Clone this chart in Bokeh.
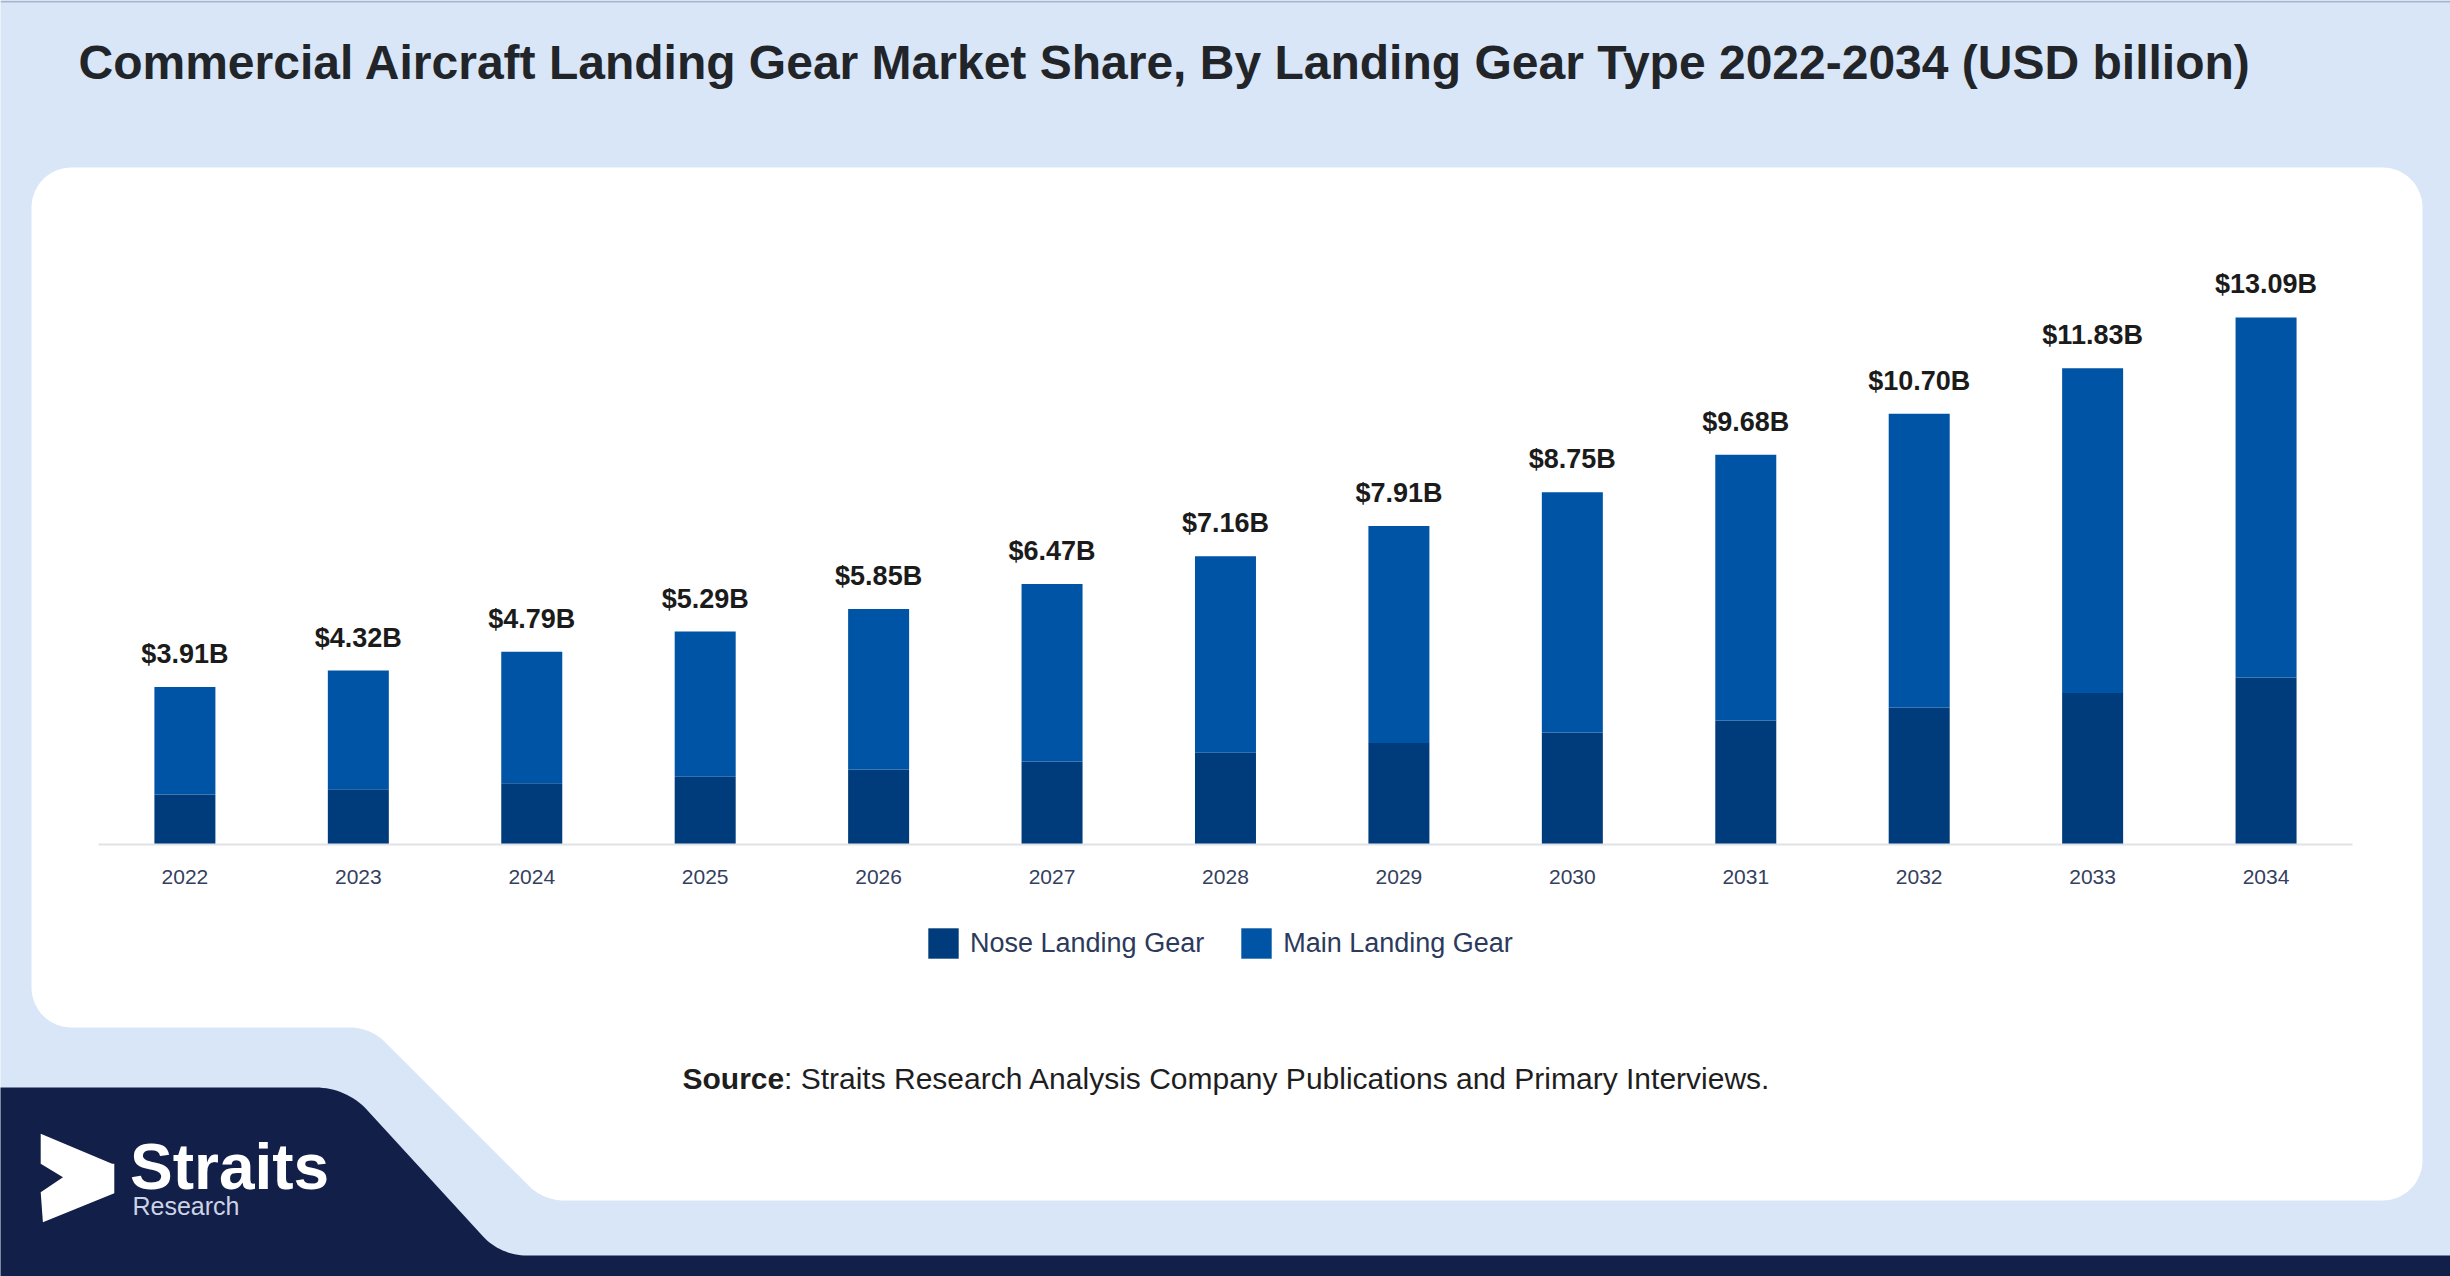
import numpy as np
from bokeh.plotting import figure
from bokeh.models import (Range1d, ColumnDataSource, LinearAxis, FixedTicker,
                          Legend, LegendItem)
from bokeh.embed import file_html
from bokeh.resources import INLINE
from bokeh.core.properties import value

# ---------------- data ----------------
title_text = "Commercial Aircraft Landing Gear Market Share, By Landing Gear Type 2022-2034 (USD billion)"
years = [2022, 2023, 2024, 2025, 2026, 2027, 2028, 2029, 2030, 2031, 2032, 2033, 2034]
year_labels = ["2022", "2023", "2024", "2025", "2026", "2027", "2028",
               "2029", "2030", "2031", "2032", "2033", "2034"]
series_names = ["Nose Landing Gear", "Main Landing Gear"]
nose = [1.24, 1.37, 1.52, 1.68, 1.86, 2.06, 2.28, 2.52, 2.78, 3.08, 3.40, 3.76, 4.15]
main = [2.67, 2.95, 3.27, 3.61, 3.99, 4.41, 4.88, 5.39, 5.97, 6.60, 7.30, 8.07, 8.94]
total_labels = ["$3.91B", "$4.32B", "$4.79B", "$5.29B", "$5.85B", "$6.47B", "$7.16B",
                "$7.91B", "$8.75B", "$9.68B", "$10.70B", "$11.83B", "$13.09B"]
source_bold = "Source"
source_rest = ": Straits Research Analysis Company Publications and Primary Interviews."
logo_main = "Straits"
logo_sub = "Research"

# ---------------- styling / layout ----------------
W, H = 2450, 1276
OFF = 0
BG = "#d9e6f7"
NAVY = "#121f48"
NOSE_C = "#003b7b"
MAIN_C = "#0054a6"
FONT = "Liberation Sans"

# pixel anchors of the chart area (page coordinates)
x_first, x_step = 184.4, 173.43      # centre of first bar, spacing
y_base, px_per_unit = 844.0, 40.26   # baseline, pixels per billion

x0 = years[0] - (x_first - OFF) / x_step
x1 = x0 + W / x_step
y0 = -((OFF + H) - y_base) / px_per_unit
y1 = (y_base - OFF) / px_per_unit

p = figure(width=W, height=H, x_range=Range1d(x0, x1), y_range=Range1d(y0, y1),
           x_axis_type=None, y_axis_type=None, toolbar_location=None,
           output_backend="svg", min_border=0, outline_line_color=None,
           background_fill_color=BG, border_fill_color=BG)
p.extra_x_ranges = {"px": Range1d(OFF, OFF + W)}
p.extra_y_ranges = {"px": Range1d(OFF + H, OFF)}


def rounded(points, radii, n=16):
    pts = [np.array(pt, dtype=float) for pt in points]
    N = len(pts)
    xs, ys = [], []
    for i in range(N):
        p0, p1, p2 = pts[i - 1], pts[i], pts[(i + 1) % N]
        r = radii[i]
        if r <= 0:
            xs.append(p1[0]); ys.append(p1[1]); continue
        u1 = (p0 - p1) / np.linalg.norm(p0 - p1)
        u2 = (p2 - p1) / np.linalg.norm(p2 - p1)
        ang = np.arccos(np.clip(np.dot(u1, u2), -1, 1))
        t = r / np.tan(ang / 2)
        a = p1 + u1 * t
        b = p1 + u2 * t
        bis = (u1 + u2) / np.linalg.norm(u1 + u2)
        c = p1 + bis * r / np.sin(ang / 2)
        aa = np.arctan2(a[1] - c[1], a[0] - c[0])
        ab = np.arctan2(b[1] - c[1], b[0] - c[0])
        d = (ab - aa + np.pi) % (2 * np.pi) - np.pi
        for k in range(n + 1):
            th = aa + d * k / n
            xs.append(c[0] + r * np.cos(th)); ys.append(c[1] + r * np.sin(th))
    return xs, ys


# thin top border line
p.segment(x0=[0], y0=[1], x1=[W], y1=[1], line_color="#a7b3cf", line_width=2,
          x_range_name="px", y_range_name="px")

# white panel with cut-out
wx, wy = rounded([(31, 167), (2422, 167), (2422, 1200), (543, 1200), (370, 1027), (31, 1027)],
                 [40, 40, 40, 50, 50, 40])
p.patch(wx, wy, fill_color="white", line_color=None, x_range_name="px", y_range_name="px")

# navy logo band
nx, ny = rounded([(-20, 1087), (346, 1087), (500, 1255), (2470, 1255), (2470, 1290), (-20, 1290)],
                 [0, 70, 60, 0, 0, 0])
p.patch(nx, ny, fill_color=NAVY, line_color=None, x_range_name="px", y_range_name="px")

# logo arrow
ax = [40.2, 111.6, 113.8, 113.8, 42.4, 40.2, 62.5, 40.2]
ay = [1133.3, 1163.3, 1163.3, 1192.7, 1221.7, 1191.7, 1176.7, 1163.3]
p.patch(ax, ay, fill_color="white", line_color=None, x_range_name="px", y_range_name="px")
p.text(x=[129.5], y=[1166], text=[logo_main], x_range_name="px", y_range_name="px",
       text_font=value(FONT), text_font_size="64px", text_font_style="bold",
       text_color="white", text_baseline="middle", text_align="left")
p.text(x=[132], y=[1205], text=[logo_sub], x_range_name="px", y_range_name="px",
       text_font=value(FONT), text_font_size="25px", text_color="#cdd3e4",
       text_baseline="middle", text_align="left")

# title
p.text(x=[78], y=[62], text=[title_text], x_range_name="px", y_range_name="px",
       text_font=value(FONT), text_font_size="48px", text_font_style="bold",
       text_color="#212529", text_baseline="middle", text_align="left")

# source
p.text(x=[682], y=[1078], text=[source_bold], x_range_name="px", y_range_name="px",
       text_font=value(FONT), text_font_size="30px", text_font_style="bold",
       text_color="#1e1e1e", text_baseline="middle", text_align="left")
p.text(x=[783.5], y=[1078], text=[source_rest], x_range_name="px", y_range_name="px",
       text_font=value(FONT), text_font_size="30px",
       text_color="#1e1e1e", text_baseline="middle", text_align="left")

# bars
totals = [a + b for a, b in zip(nose, main)]
src = ColumnDataSource(dict(year=years, nose=nose, main=main, total=totals, label=total_labels))
bars = p.vbar_stack(["nose", "main"], x="year", width=61 / x_step, color=[NOSE_C, MAIN_C],
                    line_color=None, source=src)

p.text(x="year", y="total", text="label", source=src, y_offset=-33,
       text_font=value(FONT), text_font_size="27px", text_font_style="bold",
       text_color="#1b1b1b", text_align="center", text_baseline="middle")

# x axis at baseline
xaxis = LinearAxis(fixed_location=0, ticker=FixedTicker(ticks=years),
                   bounds=(years[0] - 0.5, years[-1] + 0.5),
                   major_label_overrides={y: s for y, s in zip(years, year_labels)},
                   axis_line_color="#e0e2e6", axis_line_width=2,
                   major_tick_line_color=None, minor_tick_line_color=None,
                   major_tick_in=0, major_tick_out=0, major_label_standoff=25,
                   major_label_text_font=FONT, major_label_text_font_size="21px",
                   major_label_text_color="#34405e")
p.add_layout(xaxis, "below")

legend = Legend(items=[LegendItem(label=series_names[0], renderers=[bars[0]]),
                       LegendItem(label=series_names[1], renderers=[bars[1]])],
                orientation="horizontal", location=(924 - OFF, (OFF + H) - 962),
                glyph_width=38, glyph_height=38, label_height=38, label_standoff=8,
                spacing=33, padding=0, margin=0, border_line_color=None,
                background_fill_alpha=0, label_text_font=FONT,
                label_text_font_size="27px", label_text_color="#2c3a5c")
p.add_layout(legend)

open("out.html", "w").write(file_html(p, INLINE))
